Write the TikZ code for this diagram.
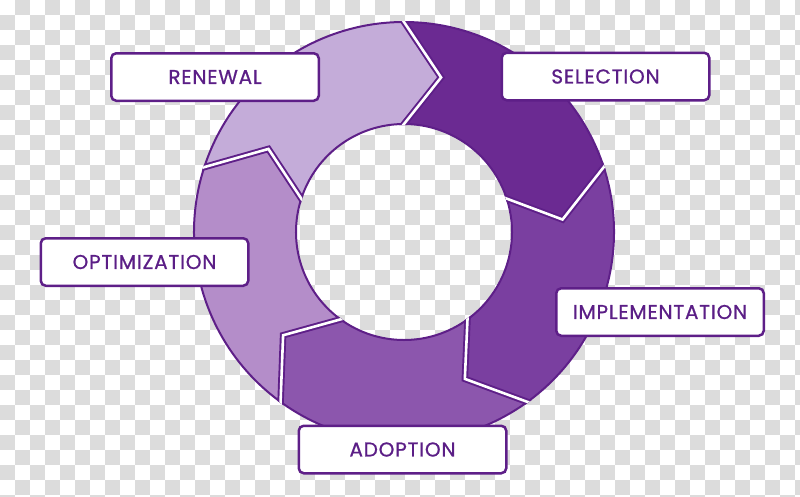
\documentclass[tikz,border=0pt]{standalone}
\usepackage{fontspec}
\setmainfont{Poppins}[LetterSpace=4,FakeBold=0.8]
\usetikzlibrary{calc}
\definecolor{chk}{RGB}{220,220,220}
\definecolor{outl}{RGB}{94,31,136}
\definecolor{txt}{RGB}{91,30,134}
\definecolor{cRen}{RGB}{196,172,217}
\definecolor{cSel}{RGB}{107,42,146}
\definecolor{cImp}{RGB}{122,63,160}
\definecolor{cAdo}{RGB}{140,86,173}
\definecolor{cOpt}{RGB}{180,141,201}
\newcommand\ringseg[2]{%
  \pgfmathsetmacro\hA{#1-72}%
  \pgfmathsetmacro\hB{#1-72-13.5}%
  \pgfmathsetmacro\tA{#1-13.5}%
  \filldraw[segment, fill=#2] ($(C)+(#1:210pt)$) arc[start angle=#1, end angle=\hA, radius=210pt]
    -- ($(C)+(\hB:159pt)$) -- ($(C)+(\hA:108pt)$) arc[start angle=\hA, end angle=#1, radius=108pt]
    -- ($(C)+(\tA:159pt)$) -- cycle;}
\newcommand\junction[1]{%
  \pgfmathsetmacro\tA{#1-13.5}%
  \coordinate (jo) at ($(C)+(#1:210pt)$);
  \coordinate (jt) at ($(C)+(\tA:159pt)$);
  \coordinate (ji) at ($(C)+(#1:108pt)$);
  \draw[outl, line width=6.5pt, line join=miter] ($(jo)!-0.2!(jt)$) -- (jt) -- ($(ji)!-0.2!(jt)$);
  \draw[white, line width=2.6pt, line join=miter] ($(jo)!-0.2!(jt)$) -- (jt) -- ($(ji)!-0.2!(jt)$);}
\begin{document}
\begin{tikzpicture}[x=1pt,y=-1pt,
  segment/.style={draw=outl, line width=2pt, line join=round},
  labelbox/.style={draw=outl, line width=2.5pt, fill=white, rounded corners=5pt,
    minimum width=207.5pt, minimum height=47.5pt, inner sep=0pt, text=txt,
    font=\fontsize{20}{24}\selectfont}]
\useasboundingbox (0,0) rectangle (800,496);
% transparency checkerboard
\foreach \i in {0,...,53}{%
  \pgfmathtruncatemacro\s{1-mod(\i,2)}%
  \foreach \k in {0,2,...,32}{%
    \fill[chk] (\i*15,{(\k+\s)*15}) rectangle ++(15,15);}}
\coordinate (C) at (404,232);
% ring segments (clockwise: renewal -> selection -> implementation -> adoption -> optimization)
\ringseg{162}{cRen}
\ringseg{90}{cSel}
\ringseg{18}{cImp}
\ringseg{-54}{cAdo}
\ringseg{-126}{cOpt}
% white gaps between segments
\begin{scope}
  \clip ($(C)+(0:211pt)$) arc[start angle=0, end angle=360, radius=211pt] -- cycle
        ($(C)+(0:107pt)$) arc[start angle=360, end angle=0, radius=107pt] -- cycle;
  \junction{90}
  \junction{18}
  \junction{-54}
  \junction{-126}
  \junction{162}
\end{scope}
% labels
\node[labelbox] (renewal) at (215,77) {RENEWAL};
\node[labelbox] (selection) at (605.5,76.5) {SELECTION};
\node[labelbox] (implementation) at (660,312) {IMPLEMENTATION};
\node[labelbox] (adoption) at (402.5,449.5) {ADOPTION};
\node[labelbox] (optimization) at (144.5,262) {OPTIMIZATION};
\end{tikzpicture}
\end{document}
